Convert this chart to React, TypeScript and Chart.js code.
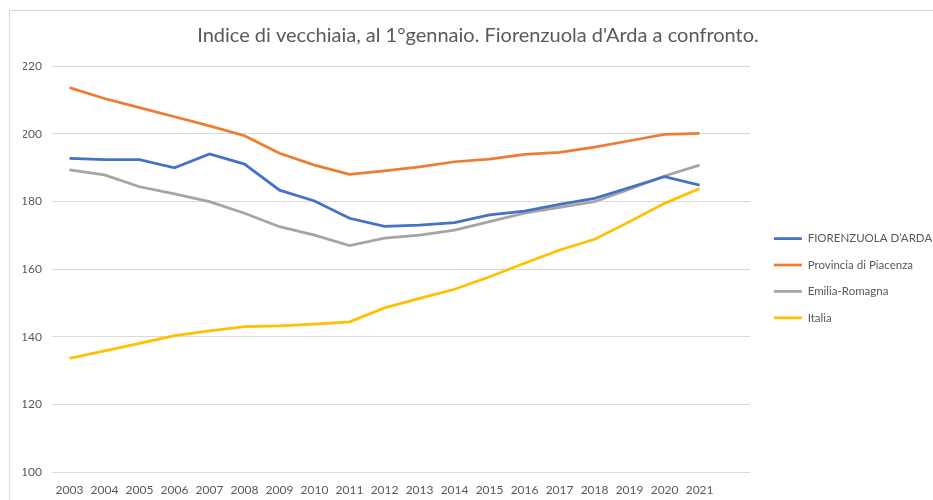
import React, { useEffect, useRef } from 'react';
import { Chart, registerables } from 'chart.js';

Chart.register(...registerables);

const years = [2003, 2004, 2005, 2006, 2007, 2008, 2009, 2010, 2011, 2012, 2013, 2014, 2015, 2016, 2017, 2018, 2019, 2020, 2021];
const fiorenzuola = [192.7, 192.3, 192.3, 189.9, 194.0, 191.0, 183.3, 180.1, 175.0, 172.6, 173.0, 173.7, 176.0, 177.1, 179.1, 180.9, 184.1, 187.3, 184.8];
const provincia = [213.6, 210.4, 207.7, 205.0, 202.3, 199.4, 194.2, 190.7, 188.0, 189.0, 190.2, 191.7, 192.5, 193.9, 194.5, 196.0, 197.9, 199.8, 200.1];
const emilia = [189.3, 187.8, 184.3, 182.2, 179.9, 176.5, 172.5, 170.0, 166.9, 169.1, 170.0, 171.5, 174.0, 176.5, 178.2, 179.9, 183.6, 187.5, 190.7];
const italia = [133.6, 135.8, 138.0, 140.3, 141.7, 143.0, 143.2, 143.7, 144.4, 148.5, 151.3, 154.0, 157.7, 161.7, 165.6, 168.8, 174.0, 179.4, 183.8];

const seriesNames = ['FIORENZUOLA D\u2019ARDA', 'Provincia di Piacenza', 'Emilia-Romagna', 'Italia'];
const seriesColors = ['#4472C4', '#ED7D31', '#A5A5A5', '#FFC000'];
const titleText = "Indice di vecchiaia, al 1°gennaio. Fiorenzuola d'Arda a confronto.";

// x-range: half a category before the first year, plot area extends past the last year
const xMin = 2002.5;
const xMax = 2022.44;

const FONT = 'Lato, "Open Sans", sans-serif';
const TEXT_COLOR = '#595959';
const GRID_COLOR = '#d9d9d9';

export default function App() {
  const canvasRef = useRef<HTMLCanvasElement | null>(null);

  useEffect(() => {
    if (!canvasRef.current) return;
    const values = [fiorenzuola, provincia, emilia, italia];
    const chart = new Chart(canvasRef.current, {
      type: 'line',
      data: {
        datasets: values.map((v, i) => ({
          label: seriesNames[i],
          data: years.map((yr, j) => ({ x: yr, y: v[j] })),
          borderColor: seriesColors[i],
          backgroundColor: seriesColors[i],
          borderWidth: 2.75,
          pointRadius: 0,
          pointHoverRadius: 0,
          tension: 0,
          fill: false,
        })),
      },
      options: {
        animation: false,
        responsive: false,
        parsing: true,
        layout: { padding: { left: 23, right: 0, top: 0, bottom: 1 } },
        plugins: {
          title: {
            display: true,
            text: titleText,
            color: TEXT_COLOR,
            font: { family: FONT, size: 20, weight: 'normal', lineHeight: 1.2 },
            padding: { top: 24, bottom: 18 },
          },
          legend: {
            display: true,
            position: 'right',
            align: 'center',
            fullSize: false,
            maxWidth: 174,
            title: { display: true, text: '', font: { size: 12, lineHeight: 1.2 }, padding: 2 },
            labels: {
              usePointStyle: true,
              pointStyle: 'line',
              pointStyleWidth: 28,
              padding: 14.9,
              color: TEXT_COLOR,
              font: { family: FONT, size: 11.5 },
            },
          },
          tooltip: { enabled: false },
        },
        scales: {
          x: {
            type: 'linear',
            min: xMin,
            max: xMax,
            grid: { display: false, drawTicks: false },
            border: { display: false },
            afterBuildTicks: (s: any) => { s.ticks = years.map((yr) => ({ value: yr })); },
            ticks: {
              color: TEXT_COLOR,
              font: { family: FONT, size: 12 },
              padding: 11,
              maxRotation: 0,
              autoSkip: false,
              callback: (val: any) => String(val),
            },
            afterFit: (s: any) => { s.height = 27; },
          },
          y: {
            min: 100,
            max: 220,
            grid: { color: GRID_COLOR, lineWidth: 1, drawTicks: false },
            border: { display: false },
            ticks: {
              stepSize: 20,
              color: TEXT_COLOR,
              font: { family: FONT, size: 12 },
              padding: 10,
            },
            afterFit: (s: any) => { s.width = 29; },
          },
          y2: {
            position: 'right',
            display: true,
            grid: { display: false, drawTicks: false },
            border: { display: false },
            ticks: { display: false },
            afterFit: (s: any) => { s.width = 9; },
          },
        },
      },
    } as any);
    return () => chart.destroy();
  }, []);

  return (
    <div style={{ position: 'fixed', left: 0, top: 0, width: 933, height: 500, overflow: 'hidden', background: '#fff' }}>
      <div style={{ position: 'absolute', left: 9, top: 10, width: 1000, height: 1000, borderLeft: `1px solid ${GRID_COLOR}`, borderTop: `1px solid ${GRID_COLOR}` }} />
      <canvas ref={canvasRef} width={933} height={500} style={{ position: 'absolute', left: 0, top: 0, display: 'block' }} />
    </div>
  );
}
